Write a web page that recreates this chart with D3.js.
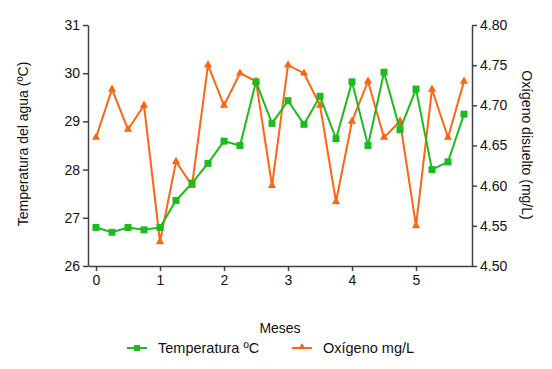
<!DOCTYPE html>
<html><head><meta charset="utf-8">
<script src="https://cdn.jsdelivr.net/npm/d3@7"></script>
<style>body{margin:0;background:#fff}svg{display:block;font-family:"Liberation Sans",Arial,sans-serif}</style>
</head><body><svg id="c" width="552" height="369"></svg>
<script>
const months = [0,0.25,0.5,0.75,1,1.25,1.5,1.75,2,2.25,2.5,2.75,3,3.25,3.5,3.75,4,4.25,4.5,4.75,5,5.25,5.5,5.75];
const temperatura = [26.8,26.7,26.8,26.75,26.8,27.36,27.72,28.13,28.59,28.5,29.82,28.96,29.43,28.94,29.52,28.64,29.82,28.5,30.02,28.83,29.67,28.0,28.16,29.15];
const oxigeno = [4.66,4.72,4.67,4.70,4.53,4.63,4.60,4.75,4.70,4.74,4.73,4.60,4.75,4.74,4.70,4.58,4.68,4.73,4.66,4.68,4.55,4.72,4.66,4.73];
const xTicks = [0,1,2,3,4,5];
const tempTicks = [26,27,28,29,30,31];
const oxTicks = [4.50,4.55,4.60,4.65,4.70,4.75,4.80];
const seriesNames = ["Temperatura ºC","Oxígeno mg/L"];
const colors = {temp:"#1dbb1d", ox:"#ff6410"};

const svg = d3.select("#c");
const x = d3.scaleLinear().domain([-0.125,5.875]).range([88,472]);
const yT = d3.scaleLinear().domain([26,31]).range([266,25]);
const yO = d3.scaleLinear().domain([4.5,4.8]).range([266,25]);
const axisColor = "#404040";

function styleAxis(g){
  g.selectAll("path,line").attr("stroke",axisColor).attr("stroke-width",1.5);
  g.selectAll("text").attr("fill","#111").style("font-size","14px");
}
svg.append("g").attr("transform","translate(0,266)")
  .call(d3.axisBottom(x).tickValues(xTicks).tickFormat(d3.format("d")).tickSize(5).tickSizeOuter(0).tickPadding(4))
  .call(styleAxis);
svg.append("g").attr("transform","translate(88,0)")
  .call(d3.axisLeft(yT).tickValues(tempTicks).tickFormat(d3.format("d")).tickSize(5).tickSizeOuter(0).tickPadding(3))
  .call(styleAxis);
svg.append("g").attr("transform","translate(472,0)")
  .call(d3.axisRight(yO).tickValues(oxTicks).tickFormat(d3.format(".2f")).tickSize(5).tickSizeOuter(0).tickPadding(3))
  .call(styleAxis);

// axis titles
svg.append("text").attr("transform","translate(28,144) rotate(-90)").attr("text-anchor","middle")
  .style("font-size","14px").attr("fill","#111").text("Temperatura del agua (ºC)");
svg.append("text").attr("transform","translate(522,145) rotate(90)").attr("text-anchor","middle")
  .style("font-size","14px").attr("fill","#111").text("Oxígeno disuelto (mg/L)");
svg.append("text").attr("x",280).attr("y",333).attr("text-anchor","middle")
  .style("font-size","14px").attr("fill","#111").text("Meses");

const tri = d3.symbol().type(d3.symbolTriangle).size(30);
// oxygen series
svg.append("path").datum(months.map((m,i)=>[m,oxigeno[i]]))
  .attr("fill","none").attr("stroke",colors.ox).attr("stroke-width",2)
  .attr("d",d3.line().x(d=>x(d[0])).y(d=>yO(d[1])));
svg.selectAll(".ox").data(months).enter().append("path")
  .attr("transform",(m,i)=>`translate(${x(m)},${yO(oxigeno[i])})`)
  .attr("d",tri).attr("fill",colors.ox);
// temperature series
svg.append("path").datum(months.map((m,i)=>[m,temperatura[i]]))
  .attr("fill","none").attr("stroke",colors.temp).attr("stroke-width",2)
  .attr("d",d3.line().x(d=>x(d[0])).y(d=>yT(d[1])));
svg.selectAll(".tp").data(months).enter().append("rect")
  .attr("x",m=>x(m)-3.5).attr("y",(m,i)=>yT(temperatura[i])-3.5)
  .attr("width",7).attr("height",7).attr("fill",colors.temp);

// legend
const leg = [{name:seriesNames[0],c:colors.temp,sym:"sq",x0:127,tx:158},{name:seriesNames[1],c:colors.ox,sym:"tri",x0:292,tx:323}];
leg.forEach(l=>{
  const g = svg.append("g");
  g.append("line").attr("x1",l.x0).attr("x2",l.x0+20).attr("y1",348).attr("y2",348).attr("stroke",l.c).attr("stroke-width",2);
  if(l.sym==="sq") g.append("rect").attr("x",l.x0+7).attr("y",345).attr("width",6).attr("height",6).attr("fill",l.c);
  else g.append("path").attr("transform",`translate(${l.x0+10},347)`).attr("d",d3.symbol().type(d3.symbolTriangle).size(22)).attr("fill",l.c);
  g.append("text").attr("x",l.tx).attr("y",353).style("font-size","14.5px").attr("fill","#111").text(l.name);
});
</script></body></html>
